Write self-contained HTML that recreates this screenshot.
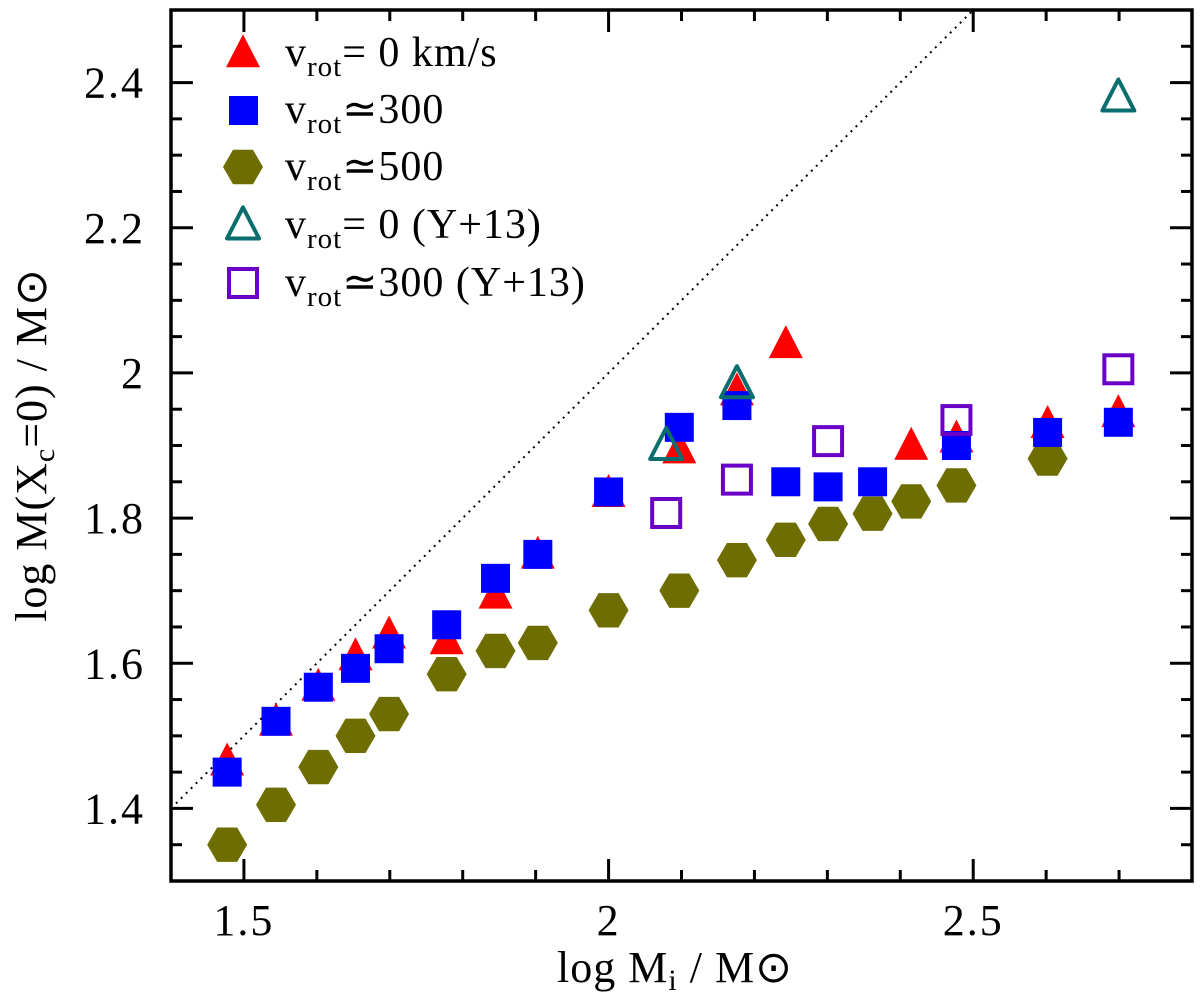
<!DOCTYPE html>
<html><head><meta charset="utf-8"><style>
body{margin:0;background:#fff}
svg text{font-family:"Liberation Serif",serif;fill:#000}
</style></head><body>
<svg id="chart" width="1200" height="996" viewBox="0 0 1200 996" xmlns="http://www.w3.org/2000/svg">
<g id="marks"></g>
<g id="axes"></g>
<g id="legend"></g>
</svg>
<script>
const redX=[1.477,1.544,1.602,1.653,1.699,1.778,1.845,1.903,2.0,2.097,2.176,2.243,2.415,2.477,2.602,2.699];
const redY=[1.465,1.52,1.568,1.61,1.64,1.632,1.695,1.75,1.835,1.895,1.975,2.04,1.90,1.91,1.93,1.945];
const blueX=[1.477,1.544,1.602,1.653,1.699,1.778,1.845,1.903,2.0,2.097,2.176,2.243,2.301,2.362,2.477,2.602,2.699];
const blueY=[1.45,1.52,1.567,1.593,1.62,1.653,1.717,1.75,1.836,1.925,1.955,1.85,1.843,1.85,1.90,1.918,1.932];
const oliveX=[1.477,1.544,1.602,1.653,1.699,1.778,1.845,1.903,2.0,2.097,2.176,2.243,2.301,2.362,2.415,2.477,2.602];
const oliveY=[1.35,1.405,1.457,1.5,1.53,1.585,1.617,1.628,1.673,1.70,1.742,1.77,1.792,1.806,1.823,1.845,1.882];
const tealX=[2.079,2.176,2.699];
const tealY=[1.90,1.985,2.38];
const purpleX=[2.079,2.176,2.301,2.477,2.699];
const purpleY=[1.807,1.853,1.906,1.935,2.005];
const xTicks=[1.5,2,2.5];
const xTickLabels=["1.5","2","2.5"];
const yTicks=[1.4,1.6,1.8,2,2.2,2.4];
const yTickLabels=["1.4","1.6","1.8","2","2.2","2.4"];

const L=171,R=1192,T=10,B=881,X0=1.4,X1=2.8,Y0=1.3,Y1=2.5;
const sx=v=>L+(v-X0)/(X1-X0)*(R-L);
const sy=v=>B-(v-Y0)/(Y1-Y0)*(B-T);
const NS="http://www.w3.org/2000/svg";
function mk(tag,attrs,parent){const e=document.createElementNS(NS,tag);for(const k in attrs)e.setAttribute(k,attrs[k]);parent.appendChild(e);return e;}
const marks=document.getElementById('marks'),axes=document.getElementById('axes'),legend=document.getElementById('legend');

function tri(cx,cy,s){return `${cx},${cy-s*0.55} ${cx-s/2},${cy+s*0.42} ${cx+s/2},${cy+s*0.42}`;}
function hex(cx,cy,w){const h=w*0.43;return `${cx-w/2},${cy} ${cx-w/4},${cy-h} ${cx+w/4},${cy-h} ${cx+w/2},${cy} ${cx+w/4},${cy+h} ${cx-w/4},${cy+h}`;}

let dl=mk('line',{x1:sx(1.4),y1:sy(1.4),x2:sx(2.5),y2:sy(2.5),stroke:'#000','stroke-width':2,'stroke-dasharray':'2,5'},marks);



oliveX.forEach((x,i)=>{const p=mk('polygon',{points:hex(sx(x),sy(oliveY[i]),40),fill:'#6e6e00'},marks);

});
redX.forEach((x,i)=>{const p=mk('polygon',{points:tri(sx(x),sy(redY[i]),34),fill:'#ff0000'},marks);

});
blueX.forEach((x,i)=>{const p=mk('rect',{x:sx(x)-14.5,y:sy(blueY[i])-14.5,width:29,height:29,fill:'#0000ff'},marks);

});
tealX.forEach((x,i)=>{const p=mk('polygon',{points:tri(sx(x),sy(tealY[i]),32),fill:'none',stroke:'#0a6e6e','stroke-width':4,'stroke-linejoin':'round'},marks);

});
purpleX.forEach((x,i)=>{const p=mk('rect',{x:sx(x)-14,y:sy(purpleY[i])-14,width:28,height:28,fill:'none',stroke:'#6a00c8','stroke-width':4},marks);

});

let fr=mk('rect',{x:L,y:T,width:R-L,height:B-T,fill:'none',stroke:'#000','stroke-width':3.5},axes);


for(let i=14;i<=28;i++){const v=i/10,x=sx(v),len=(i%5==0)?22:11;
mk('line',{x1:x,y1:B,x2:x,y2:B-len,stroke:'#000','stroke-width':3},axes);
mk('line',{x1:x,y1:T,x2:x,y2:T+len,stroke:'#000','stroke-width':3},axes);}
for(let i=26;i<=50;i++){const v=i/20,y=sy(v),len=(i%4==0)?22:11;
mk('line',{x1:L,y1:y,x2:L+len,y2:y,stroke:'#000','stroke-width':3},axes);
mk('line',{x1:R,y1:y,x2:R-len,y2:y,stroke:'#000','stroke-width':3},axes);}
xTicks.forEach((v,i)=>{const t=mk('text',{x:sx(v),y:B+54,'font-size':44,'text-anchor':'middle','letter-spacing':2},axes);t.textContent=xTickLabels[i];

});
yTicks.forEach((v,i)=>{const t=mk('text',{x:L-26,y:sy(v)+15,'font-size':44,'text-anchor':'end','letter-spacing':2},axes);t.textContent=yTickLabels[i];

});

const legY=[53,110,167,225,283];
mk('polygon',{points:tri(243,legY[0],34),fill:'#ff0000'},legend);
mk('rect',{x:229,y:legY[1]-14,width:29,height:29,fill:'#0000ff'},legend);
mk('polygon',{points:hex(243,legY[2],40),fill:'#6e6e00'},legend);
mk('polygon',{points:tri(243,legY[3],32),fill:'none',stroke:'#0a6e6e','stroke-width':4,'stroke-linejoin':'round'},legend);
mk('rect',{x:229,y:legY[4]-14,width:28,height:28,fill:'none',stroke:'#6a00c8','stroke-width':4},legend);
</script>
<svg style="position:absolute;left:0;top:0" width="1200" height="996">
<g font-family="Liberation Serif, serif" font-size="42" letter-spacing="1">
<text x="285" y="66">v<tspan font-size="29" dy="10">rot</tspan><tspan dy="-10">= 0 km/s</tspan></text>
<text x="285" y="123">v<tspan font-size="29" dy="10">rot</tspan><tspan dy="-10">≃300</tspan></text>
<text x="285" y="180">v<tspan font-size="29" dy="10">rot</tspan><tspan dy="-10">≃500</tspan></text>
<text x="285" y="238">v<tspan font-size="29" dy="10">rot</tspan><tspan dy="-10">= 0  (Y+13)</tspan></text>
<text x="285" y="296">v<tspan font-size="29" dy="10">rot</tspan><tspan dy="-10">≃300  (Y+13)</tspan></text>
<text x="675" y="982" text-anchor="middle" font-size="44">log M<tspan font-size="30" dy="8">i</tspan><tspan dy="-8"> / M⊙</tspan></text>
<text transform="translate(46,445) rotate(-90)" text-anchor="middle" font-size="44">log M(X<tspan font-size="30" dy="8">c</tspan><tspan dy="-8">=0)  /  M⊙</tspan></text>
</g></svg>
</body></html>
